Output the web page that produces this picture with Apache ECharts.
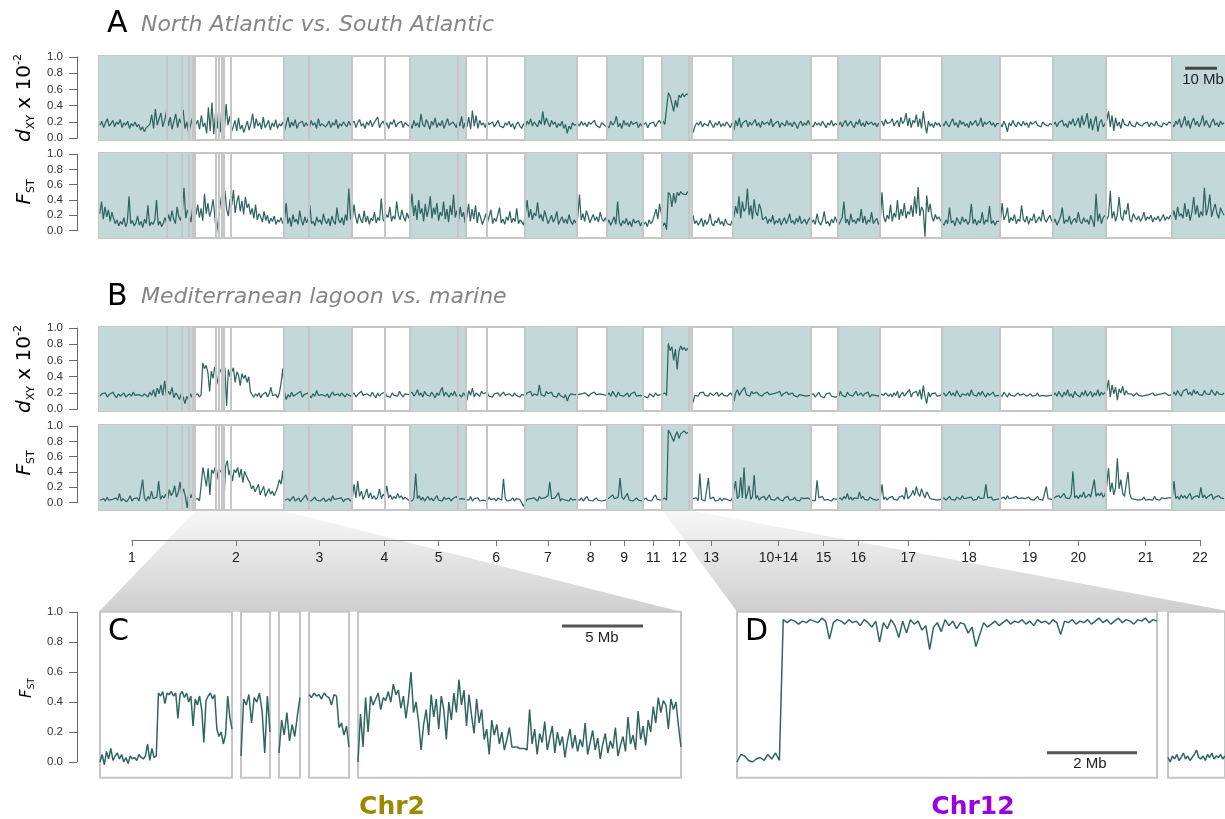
<!DOCTYPE html>
<html>
<head>
<meta charset="utf-8">
<script src="https://cdn.jsdelivr.net/npm/echarts@6/dist/echarts.min.js"></script>
<style>
html,body{margin:0;padding:0;background:#fff;}
#main{width:1225px;height:819px;}
</style>
</head>
<body>
<div id="main"></div>
<script>
// chromosomes along the genome (Mb from start of the concatenated assembly)
var chromNames = ['1','2','3','4','5','6','7','8','9','11','12','13','10+14','15','16','17','18','19','20','21','22'];
var chromEdges = [0, 30.1, 57.8, 79.0, 97.2, 114.9, 133.2, 149.6, 158.8, 170.3, 176.3, 185.7, 198.5, 222.8, 231.3, 244.3, 263.7, 281.9, 298.5, 315.2, 335.7, 352.5];
var chromTicks = [10.25, 42.75, 68.9, 89.2, 106.1, 124.1, 140.25, 153.6, 164.1, 173.2, 181.3, 191.3, 212.3, 226.4, 237.3, 252.9, 271.9, 290.8, 306.0, 327.1, 344.1];
// scaffold gaps inside chromosomes
var scaffoldBreaks = [21.3, 26.0, 28.2, 29.3, 36.6, 37.5, 38.5, 39.2, 41.2, 65.6, 89.4, 112.3, 121.3, 184.7];

// A: North Atlantic vs South Atlantic, one list of windows per chromosome
var dxyA = [
  [0.16,0.21,0.13,0.19,0.24,0.15,0.18,0.22,0.14,0.20,0.17,0.23,0.13,0.19,0.16,0.21,0.12,0.18,0.15,0.20,0.14,0.17,0.10,0.14,0.08,0.13,0.11,0.17,0.29,0.12,0.36,0.16,0.24,0.31,0.14,0.22,0.33,0.15,0.26,0.11,0.21,0.30,0.13,0.24,0.18,0.35,0.12,0.20,0.07,0.16,0.25,0.13],
  [0.15,0.22,0.11,0.28,0.14,0.19,0.06,0.38,0.09,0.44,0.05,0.31,0.12,0.40,0.07,0.35,0.10,0.42,0.16,0.27,0.08,0.14,0.22,0.09,0.25,0.11,0.16,0.07,0.14,0.21,0.10,0.18,0.30,0.12,0.24,0.15,0.19,0.11,0.26,0.13,0.17,0.22,0.10,0.19,0.14,0.23,0.12,0.18,0.15,0.20],
  [0.09,0.18,0.26,0.13,0.20,0.15,0.23,0.12,0.18,0.16,0.21,0.14,0.19,0.17,0.13,0.22,0.16,0.19,0.12,0.24,0.15,0.18,0.20,0.14,0.17,0.21,0.13,0.19,0.16,0.23,0.12,0.18,0.15,0.20,0.17,0.14,0.21,0.16],
  [0.16,0.21,0.13,0.19,0.23,0.15,0.18,0.12,0.20,0.16,0.22,0.14,0.19,0.17,0.26,0.13,0.18,0.21,0.15,0.19,0.12,0.20,0.17,0.23,0.14,0.18,0.16,0.21,0.13,0.19,0.17,0.15],
  [0.18,0.12,0.22,0.15,0.19,0.13,0.30,0.17,0.14,0.23,0.18,0.11,0.21,0.16,0.25,0.13,0.19,0.15,0.22,0.12,0.18,0.24,0.16,0.14,0.20,0.17,0.13,0.23,0.15,0.27,0.12,0.19],
  [0.14,0.26,0.11,0.34,0.15,0.28,0.12,0.22,0.16,0.19,0.13,0.21,0.17,0.15,0.20,0.14,0.18,0.22,0.15,0.17,0.13,0.19,0.16,0.21,0.14,0.18,0.11,0.17,0.20,0.15,0.12,0.18],
  [0.13,0.21,0.17,0.24,0.15,0.20,0.18,0.14,0.22,0.17,0.33,0.16,0.25,0.19,0.14,0.22,0.17,0.20,0.13,0.18,0.15,0.21,0.12,0.17,0.06,0.15,0.11,0.19,0.16,0.18],
  [0.18,0.15,0.21,0.16,0.19,0.14,0.20,0.17,0.15,0.22,0.16,0.18,0.13,0.19,0.17,0.15],
  [0.17,0.13,0.21,0.16,0.19,0.27,0.14,0.18,0.12,0.22,0.16,0.19,0.14,0.21,0.17,0.15,0.20,0.13,0.18,0.15],
  [0.15,0.19,0.13,0.18,0.16,0.20,0.14,0.19,0.22,0.18],
  [0.21,0.17,0.19,0.56,0.52,0.54,0.33,0.47,0.38,0.53,0.50,0.55,0.51,0.54,0.52,0.55,null],
  [0.07,0.15,0.19,0.16,0.21,0.14,0.18,0.20,0.15,0.22,0.17,0.13,0.19,0.16,0.21,0.14,0.18,0.15,0.20,0.17,0.13,0.19],
  [0.10,0.22,0.15,0.25,0.13,0.19,0.17,0.22,0.14,0.20,0.16,0.18,0.23,0.15,0.19,0.13,0.21,0.17,0.15,0.20,0.16,0.24,0.14,0.18,0.16,0.21,0.13,0.19,0.17,0.15,0.22,0.16,0.19,0.14,0.20,0.17,0.12,0.18,0.21,0.15,0.19,0.16,0.22,0.17],
  [0.18,0.14,0.20,0.16,0.19,0.15,0.21,0.17,0.13,0.19,0.16,0.22,0.15,0.18,0.16],
  [0.16,0.20,0.14,0.19,0.22,0.15,0.18,0.21,0.16,0.13,0.20,0.17,0.23,0.15,0.19,0.14,0.21,0.17,0.15,0.20,0.16,0.19,0.14,0.18],
  [0.17,0.21,0.15,0.23,0.18,0.16,0.20,0.24,0.15,0.19,0.22,0.14,0.26,0.18,0.21,0.31,0.15,0.25,0.13,0.22,0.19,0.29,0.14,0.24,0.12,0.33,0.17,0.06,0.21,0.15,0.18,0.13,0.20,0.16,0.19,0.14],
  [0.19,0.15,0.21,0.17,0.14,0.20,0.24,0.16,0.19,0.13,0.22,0.17,0.20,0.15,0.18,0.13,0.21,0.16,0.19,0.22,0.15,0.18,0.25,0.14,0.20,0.17,0.15,0.21,0.16,0.19,0.14,0.18,0.16],
  [0.18,0.14,0.21,0.16,0.08,0.19,0.15,0.22,0.17,0.14,0.20,0.18,0.15,0.21,0.16,0.19,0.13,0.20,0.17,0.15,0.21,0.16,0.18,0.14,0.20,0.17,0.19,0.15,0.18,0.16],
  [0.16,0.20,0.14,0.19,0.17,0.22,0.15,0.18,0.13,0.21,0.17,0.24,0.15,0.19,0.25,0.13,0.28,0.16,0.22,0.31,0.12,0.24,0.10,0.20,0.27,0.08,0.19,0.23,0.14,0.18],
  [0.22,0.33,0.14,0.28,0.09,0.25,0.15,0.20,0.12,0.24,0.17,0.19,0.15,0.21,0.16,0.18,0.14,0.20,0.17,0.19,0.15,0.18,0.16,0.20,0.14,0.19,0.17,0.15,0.21,0.16,0.18,0.14,0.19,0.17,0.16,0.20,0.18],
  [0.18,0.14,0.21,0.17,0.24,0.13,0.19,0.27,0.15,0.22,0.12,0.20,0.25,0.16,0.21,0.14,0.19,0.28,0.15,0.22,0.17,0.13,0.20,0.24,0.16,0.19,0.14,0.21,0.17,0.19]
];
var fstA = [
  [0.22,0.38,0.15,0.31,0.18,0.27,0.12,0.24,0.16,0.09,0.14,0.06,0.12,0.08,0.17,0.05,0.11,0.45,0.09,0.13,0.06,0.10,0.19,0.07,0.12,0.04,0.15,0.09,0.33,0.06,0.11,0.08,0.14,0.40,0.07,0.12,0.05,0.10,0.17,0.08,0.21,0.12,0.26,0.15,0.09,0.31,0.18,0.13,0.24,0.56,0.16,0.27,0.20,0.11,0.29,0.18],
  [0.21,0.34,0.17,0.29,0.13,0.48,0.22,0.36,0.18,0.27,0.41,0.20,-0.04,0.12,0.31,0.45,0.24,0.52,0.28,0.19,0.41,0.33,0.53,0.23,0.37,0.46,0.25,0.39,0.21,0.44,0.30,0.35,0.21,0.29,0.16,0.34,0.14,0.22,0.18,0.11,0.25,0.13,0.20,0.09,0.16,0.12,0.19,0.08,0.14,0.11,0.17,0.09],
  [0.14,0.36,0.09,0.17,0.05,0.21,0.11,0.15,0.08,0.26,0.13,0.07,0.18,0.10,0.15,0.33,0.09,0.12,0.06,0.18,0.11,0.14,0.08,0.22,0.13,0.09,0.16,0.06,0.19,0.12,0.08,0.30,0.14,0.10,0.17,0.07,0.21,0.13,0.55,0.16],
  [0.12,0.34,0.18,0.09,0.22,0.14,0.10,0.26,0.11,0.19,0.08,0.16,0.13,0.24,0.10,0.17,0.13,0.42,0.15,0.11,0.21,0.17,0.31,0.12,0.19,0.15,0.38,0.20,0.14,0.27,0.18,0.12,0.23,0.16],
  [0.26,0.48,0.19,0.33,0.14,0.40,0.22,0.29,0.12,0.35,0.18,0.27,0.45,0.16,0.30,0.21,0.36,0.13,0.24,0.19,0.38,0.15,0.28,0.11,0.33,0.20,0.47,0.17,0.26,0.13,0.31,0.18,0.24,0.10],
  [0.18,0.35,0.12,0.28,0.15,0.33,0.10,0.24,0.17,0.08,0.14,0.22,0.11,0.19,0.27,0.09,0.16,0.12,0.21,0.30,0.10,0.15,0.08,0.18,0.13,0.25,0.10,0.16,0.12,0.29,0.09,0.14,0.11,0.07],
  [0.22,0.40,0.17,0.28,0.14,0.23,0.19,0.37,0.16,0.21,0.12,0.26,0.18,0.09,0.14,0.20,0.11,0.16,0.25,0.08,0.13,0.18,0.10,0.15,0.09,0.21,0.12,0.08,0.14,0.10],
  [0.17,0.47,0.14,0.22,0.12,0.26,0.19,0.10,0.16,0.21,0.13,0.18,0.11,0.24,0.15,0.12,0.17],
  [0.09,0.14,0.07,0.12,0.18,0.08,0.38,0.11,0.06,0.13,0.09,0.16,0.07,0.12,0.05,0.15,0.10,0.08,0.13,0.06,0.11],
  [0.08,0.11,0.05,0.14,0.09,0.12,0.20,0.28,0.15,0.35,0.22],
  [0.06,0.10,0.01,0.50,0.47,0.31,0.49,0.36,0.50,0.46,0.51,0.48,0.50,0.47,0.51,0.49,null],
  [0.20,0.09,0.13,0.07,0.11,0.16,0.05,0.14,0.08,0.12,0.22,0.09,0.06,0.13,0.10,0.17,0.08,0.12,0.06,0.15,0.09,0.11,0.07,0.13],
  [0.18,0.32,0.22,0.45,0.16,0.38,0.25,0.29,0.55,0.20,0.33,0.15,0.41,0.24,0.19,0.35,0.28,0.14,0.12,0.18,0.09,0.15,0.11,0.20,0.08,0.13,0.10,0.16,0.07,0.12,0.17,0.09,0.14,0.22,0.10,0.13,0.08,0.16,0.11,0.19,0.09,0.12,0.15,0.08,0.13,0.17],
  [0.10,0.14,0.08,0.22,0.11,0.07,0.13,0.25,0.09,0.12,0.06,0.15,0.10,0.18,0.11],
  [0.08,0.12,0.17,0.38,0.10,0.15,0.07,0.22,0.11,0.14,0.09,0.16,0.12,0.28,0.10,0.19,0.08,0.14,0.11,0.24,0.09,0.13,0.16,0.08],
  [0.13,0.50,0.18,0.11,0.20,0.15,0.34,0.12,0.23,0.17,0.40,0.14,0.28,0.19,0.36,0.16,0.25,0.21,0.33,0.18,0.45,0.22,0.57,0.19,0.31,0.26,-0.08,0.46,0.24,0.35,0.18,0.12,0.21,0.15,0.18,0.13],
  [0.11,0.07,0.14,0.09,0.30,0.10,0.13,0.06,0.17,0.12,0.08,0.18,0.11,0.15,0.08,0.12,0.35,0.09,0.15,0.07,0.13,0.10,0.24,0.08,0.14,0.11,0.32,0.09,0.13,0.07,0.12,0.10],
  [0.12,0.36,0.14,0.19,0.30,0.10,0.17,0.13,0.21,0.09,0.15,0.12,0.33,0.15,0.11,0.19,0.08,0.16,0.13,0.22,0.10,0.14,0.18,0.12,0.27,0.15,0.11,0.16,0.20,0.13],
  [0.10,0.15,0.07,0.12,0.18,0.30,0.09,0.14,0.11,0.19,0.08,0.13,0.16,0.10,0.24,0.12,0.09,0.17,0.11,0.14,0.08,0.20,0.13,0.05,0.48,0.12,0.22,0.09,0.17,0.20],
  [0.14,0.19,0.52,0.16,0.25,0.12,0.21,0.44,0.18,0.13,0.27,0.21,0.36,0.15,0.11,0.22,0.17,0.14,0.19,0.12,0.16,0.24,0.13,0.18,0.15,0.20,0.11,0.17,0.14,0.19,0.12,0.16,0.21,0.13,0.18,0.15,0.20],
  [0.17,0.26,0.14,0.31,0.19,0.22,0.16,0.36,0.18,0.28,0.13,0.24,0.44,0.21,0.33,0.17,0.25,0.19,0.56,0.20,0.29,0.47,0.18,0.27,0.35,0.22,0.16,0.30,0.24,0.20]
];

// B: Mediterranean lagoon vs marine
var dxyB = [
  [0.16,0.19,0.17,0.20,0.15,0.18,0.16,0.21,0.17,0.14,0.19,0.16,0.18,0.20,0.15,0.17,0.19,0.16,0.21,0.17,0.15,0.18,0.20,0.16,0.19,0.17,0.15,0.21,0.17,0.24,0.15,0.26,0.19,0.30,0.17,0.35,0.16,0.22,0.18,0.27,0.14,0.20,0.17,0.12,0.19,0.15,0.07,0.16,0.11,0.19,0.14,0.17],
  [0.17,0.19,0.15,0.18,0.57,0.50,0.54,0.45,0.22,0.47,0.38,0.52,0.43,0.31,0.49,0.45,0.36,0.51,0.04,0.49,0.40,0.46,0.51,0.33,0.46,0.42,0.29,0.44,0.38,0.42,0.33,0.40,0.21,0.18,0.15,0.19,0.16,0.20,0.14,0.18,0.17,0.21,0.15,0.19,0.27,0.17,0.15,0.18,0.14,0.20,0.32,0.50],
  [0.20,0.12,0.18,0.15,0.21,0.16,0.14,0.19,0.17,0.22,0.15,0.18,0.16,0.20,0.17,0.14,0.19,0.16,0.23,0.17,0.15,0.18,0.20,0.16,0.19,0.14,0.18,0.21,0.17,0.15,0.19,0.16,0.20,0.18,0.15,0.19,0.17,0.16],
  [0.17,0.20,0.15,0.18,0.16,0.22,0.17,0.15,0.19,0.18,0.16,0.21,0.17,0.14,0.20,0.16,0.19,0.17,0.21,0.16,0.18,0.15,0.20,0.17,0.19,0.16,0.22,0.18,0.15,0.19,0.17,0.18],
  [0.18,0.21,0.16,0.19,0.24,0.17,0.20,0.15,0.22,0.18,0.19,0.16,0.21,0.18,0.14,0.20,0.17,0.19,0.27,0.16,0.21,0.18,0.15,0.20,0.17,0.22,0.16,0.19,0.18,0.15,0.20,0.17],
  [0.11,0.23,0.17,0.26,0.15,0.20,0.18,0.16,0.22,0.19,0.17,0.21,0.16,0.18,0.15,0.19,0.17,0.20,0.16,0.18,0.21,0.17,0.15,0.19,0.18,0.16,0.20,0.17,0.19,0.15,0.18,0.16],
  [0.17,0.20,0.18,0.22,0.16,0.19,0.21,0.17,0.30,0.18,0.20,0.16,0.22,0.19,0.17,0.21,0.16,0.18,0.15,0.20,0.17,0.19,0.14,0.18,0.10,0.16,0.19,0.17,0.18,0.16],
  [0.18,0.16,0.19,0.17,0.20,0.18,0.16,0.19,0.17,0.21,0.18,0.16,0.19,0.17,0.18,0.16],
  [0.17,0.20,0.16,0.22,0.18,0.15,0.21,0.17,0.19,0.16,0.18,0.20,0.15,0.19,0.17,0.21,0.16,0.18,0.17,0.15],
  [0.16,0.18,0.14,0.19,0.17,0.15,0.20,0.17,0.19,0.18],
  [0.18,0.20,0.17,0.81,0.72,0.77,0.60,0.74,0.49,0.71,0.78,0.73,0.76,0.72,0.75,0.74,null],
  [0.08,0.17,0.19,0.16,0.20,0.18,0.21,0.17,0.19,0.16,0.20,0.18,0.17,0.19,0.21,0.16,0.18,0.20,0.17,0.19,0.16,0.18,0.20,0.17],
  [0.10,0.20,0.24,0.17,0.21,0.19,0.27,0.18,0.20,0.16,0.22,0.19,0.17,0.21,0.18,0.20,0.16,0.19,0.17,0.21,0.18,0.16,0.19,0.17,0.20,0.18,0.22,0.16,0.19,0.17,0.21,0.18,0.16,0.20,0.17,0.19,0.15,0.18,0.20,0.17,0.19,0.16,0.18,0.17],
  [0.17,0.19,0.15,0.18,0.21,0.16,0.18,0.14,0.19,0.17,0.20,0.16,0.18,0.15,0.17],
  [0.16,0.22,0.17,0.19,0.15,0.21,0.18,0.20,0.16,0.19,0.22,0.17,0.18,0.20,0.16,0.19,0.17,0.21,0.15,0.18,0.20,0.17,0.19,0.16],
  [0.19,0.21,0.17,0.20,0.18,0.16,0.19,0.15,0.20,0.17,0.22,0.14,0.18,0.21,0.16,0.19,0.17,0.24,0.15,0.20,0.18,0.22,0.16,0.24,0.12,0.29,0.16,0.07,0.21,0.15,0.19,0.17,0.20,0.16,0.18,0.17],
  [0.18,0.20,0.16,0.19,0.22,0.17,0.20,0.16,0.23,0.18,0.15,0.19,0.21,0.17,0.20,0.16,0.24,0.18,0.19,0.16,0.21,0.17,0.22,0.18,0.15,0.20,0.17,0.19,0.21,0.16,0.18,0.17],
  [0.19,0.16,0.21,0.18,0.15,0.20,0.17,0.19,0.16,0.18,0.20,0.17,0.15,0.19,0.18,0.16,0.17,0.19,0.16,0.18,0.17,0.20,0.16,0.18,0.17,0.19,0.16,0.18,0.17,0.16],
  [0.17,0.20,0.16,0.22,0.18,0.15,0.21,0.17,0.24,0.16,0.19,0.14,0.22,0.18,0.20,0.15,0.21,0.17,0.23,0.16,0.19,0.22,0.15,0.20,0.17,0.24,0.16,0.21,0.18,0.20],
  [0.23,0.36,0.15,0.30,0.19,0.27,0.11,0.25,0.20,0.28,0.17,0.23,0.19,0.17,0.19,0.16,0.18,0.20,0.17,0.19,0.16,0.18,0.17,0.19,0.18,0.16,0.20,0.17,0.19,0.18,0.16,0.19,0.17,0.20,0.18,0.17,0.19],
  [0.18,0.21,0.17,0.23,0.19,0.16,0.22,0.20,0.25,0.18,0.21,0.17,0.24,0.19,0.22,0.18,0.20,0.17,0.23,0.19,0.21,0.18,0.24,0.20,0.17,0.22,0.19,0.21,0.18,0.20]
];
var fstB = [
  [0.03,0.01,0.05,0.02,0.07,0.03,0.01,0.04,0.02,0.06,0.03,0.12,0.02,0.05,0.03,0.01,0.04,0.09,0.02,0.05,0.03,0.06,0.02,0.04,0.30,0.06,0.02,0.08,0.04,0.15,0.05,0.03,0.07,0.28,0.04,0.09,0.06,0.11,0.04,0.17,0.09,0.13,0.22,0.07,0.13,0.27,0.10,0.18,0.08,-0.07,0.14,0.06,0.12,0.04],
  [0.03,0.05,0.02,0.04,0.46,0.44,0.21,0.45,0.10,0.43,0.38,0.46,0.30,0.44,0.40,0.45,-0.05,0.47,0.55,0.36,0.45,0.28,0.43,0.39,0.46,0.33,0.44,0.26,0.41,0.35,0.30,0.26,0.18,0.22,0.14,0.19,0.24,0.10,0.16,0.21,0.08,0.13,0.18,0.11,0.15,0.09,0.14,0.20,0.30,0.24,0.42],
  [0.03,0.01,0.05,0.02,0.04,0.08,0.02,0.03,0.06,0.01,0.04,0.02,0.10,0.03,0.05,0.02,0.04,0.07,0.03,0.05,0.02,0.04,0.06,0.01,0.03,0.05,0.02,0.09,0.04,0.02,0.05,0.03,0.06,0.01,0.04,0.03,0.05,0.02],
  [0.05,0.24,0.06,0.28,0.08,0.15,0.04,0.10,0.18,0.06,0.13,0.05,0.09,0.04,0.07,0.18,0.05,0.11,0.07,0.22,0.06,0.10,0.04,0.08,0.05,0.12,0.06,0.09,0.04,0.07,0.05,0.03],
  [0.04,0.02,0.06,0.38,0.05,0.09,0.03,0.07,0.02,0.05,0.08,0.03,0.06,0.02,0.04,0.09,0.03,0.05,0.02,0.07,0.04,0.03,0.06,0.02,0.05,0.03,0.08,0.04,0.02,0.05,0.03,0.04],
  [0.06,0.03,0.08,0.02,0.05,0.03,0.06,0.02,0.04,0.03,0.05,0.02,0.07,0.04,0.03,0.05,0.02,0.06,0.04,0.03,0.31,0.05,0.02,0.04,0.03,0.06,0.02,0.05,0.03,0.04,0.02,-0.05],
  [0.01,0.04,0.02,0.05,0.03,0.06,0.04,0.02,0.08,0.05,0.03,0.06,0.04,0.09,0.27,0.05,0.03,0.06,0.04,0.13,0.02,0.05,0.07,0.03,0.04,0.02,0.06,0.03,0.05,0.04],
  [0.05,0.03,0.06,0.02,0.04,0.08,0.03,0.05,0.02,0.04,0.06,0.03,0.05,0.02,0.04,0.03],
  [0.03,0.06,0.04,0.10,0.05,0.03,0.07,0.32,0.07,0.04,0.06,0.12,0.03,0.05,0.02,0.04,0.06,0.03,0.05,0.02],
  [0.04,0.06,0.03,0.05,0.02,0.07,0.10,0.04,0.06,0.03],
  [0.04,0.06,0.03,0.95,0.91,0.93,0.80,0.88,0.93,0.84,0.90,0.92,0.94,0.91,0.93,0.92,null],
  [0.05,0.03,0.06,0.02,0.38,0.04,0.06,0.02,0.04,0.32,0.05,0.03,0.07,0.02,0.04,0.03,0.06,0.02,0.05,0.03,0.04,0.06,0.02,0.05],
  [0.04,0.28,0.05,0.08,0.33,0.06,0.46,0.05,0.12,0.22,0.04,0.08,0.36,0.05,0.09,0.03,0.06,0.04,0.08,0.03,0.05,0.10,0.04,0.06,0.03,0.05,0.07,0.04,0.05,0.02,0.06,0.04,0.08,0.03,0.05,0.04,0.07,0.03,0.05,0.02,0.06,0.04,0.05,0.03,0.06,0.04],
  [0.03,0.05,0.02,0.29,0.06,0.04,0.08,0.03,0.05,0.04,0.06,0.02,0.05,0.03,0.04],
  [0.04,0.06,0.03,0.08,0.05,0.12,0.04,0.07,0.03,0.06,0.04,0.05,0.14,0.05,0.08,0.04,0.06,0.03,0.07,0.05,0.04,0.06,0.03,0.05],
  [0.05,0.24,0.04,0.07,0.03,0.06,0.05,0.08,0.04,0.06,0.03,0.07,0.05,0.09,0.04,0.20,0.05,0.07,0.10,0.16,0.09,0.21,0.12,0.08,0.18,0.11,0.06,0.14,0.10,0.05,0.07,0.04,0.06,0.03,0.05,0.04],
  [0.04,0.06,0.03,0.05,0.08,0.04,0.06,0.03,0.07,0.05,0.04,0.09,0.05,0.03,0.06,0.04,0.07,0.03,0.05,0.04,0.08,0.05,0.03,0.06,0.24,0.06,0.04,0.07,0.03,0.05,0.04,0.06],
  [0.05,0.03,0.07,0.04,0.09,0.05,0.03,0.06,0.04,0.08,0.05,0.03,0.06,0.04,0.05,0.03,0.07,0.04,0.06,0.03,0.05,0.08,0.04,0.06,0.03,0.05,0.21,0.05,0.06,0.04],
  [0.04,0.07,0.05,0.09,0.06,0.04,0.12,0.06,0.08,0.05,0.10,0.41,0.06,0.09,0.05,0.10,0.07,0.14,0.06,0.08,0.11,0.07,0.09,0.30,0.08,0.12,0.09,0.13,0.07,0.10],
  [0.22,0.45,0.14,0.26,0.10,0.20,0.58,0.18,0.30,0.12,0.08,0.24,0.40,0.12,0.05,0.07,0.04,0.06,0.03,0.05,0.04,0.07,0.03,0.05,0.04,0.06,0.03,0.08,0.04,0.05,0.03,0.06,0.04,0.05,0.03,0.06,0.04],
  [0.06,0.28,0.05,0.08,0.04,0.10,0.06,0.09,0.05,0.07,0.12,0.04,0.07,0.05,0.09,0.06,0.20,0.06,0.10,0.05,0.08,0.06,0.11,0.04,0.07,0.05,0.09,0.06,0.08,0.05]
];

// C: Chr2 FST (lagoon vs marine), one list per scaffold box
var chr2Fst = [
  [0.00,0.05,-0.02,0.07,0.02,0.09,0.01,0.04,0.06,0.02,0.05,0.00,0.03,-0.01,0.04,0.02,0.03,0.01,0.05,0.03,0.02,0.04,0.12,0.01,0.09,0.03,0.04,
   0.46,0.44,0.47,0.39,0.46,0.45,0.47,0.44,0.46,
   0.29,0.45,0.47,0.43,0.46,0.40,0.44,0.24,0.42,0.38,0.44,0.35,0.13,0.41,0.44,0.46,0.42,0.45,0.22,0.17,0.20,0.12,0.18,0.44,0.30,0.22],
  [0.04,0.42,0.38,0.45,0.26,0.43,0.40,0.46,0.34,0.06,0.44,0.20],
  [0.06,0.28,0.18,0.33,0.14,0.25,0.17,0.31,0.43],
  [0.45,0.43,0.46,0.44,0.45,0.42,0.46,0.44,0.43,0.38,0.45,0.44,0.23,0.26,0.18,0.24,0.10],
  [0.00,0.32,0.10,0.43,0.20,
   0.44,0.38,0.42,0.46,0.35,0.43,0.41,0.47,0.40,
   0.52,0.45,0.48,0.36,0.44,0.29,0.42,0.60,0.33,0.40,0.27,
   0.08,0.25,0.35,0.18,
   0.45,0.30,0.42,0.22,0.44,0.35,0.15,0.40,0.28,0.46,0.33,0.55,
   0.38,0.48,0.24,0.45,0.31,0.19,0.42,0.26,0.35,0.15,0.22,
   0.05,0.28,0.18,0.25,0.12,0.20,0.08,0.15,0.23,0.10,
   0.10,0.10,0.09,0.09,0.09,0.08,
   0.35,0.12,0.22,0.05,0.19,0.13,0.27,0.08,0.16,0.24,0.06,0.20,0.11,0.17,0.03,0.14,0.22,0.09,0.18,0.07,0.15,
   0.10,0.26,0.05,0.13,0.21,0.08,0.16,0.02,0.12,0.19,0.06,0.14,0.09,0.23,0.04,0.11,0.17,0.07,0.30,0.12,0.18,
   0.08,0.34,0.15,0.24,0.11,0.28,0.20,0.37,0.26,0.43,0.33,0.41,0.38,0.22,0.42,0.35,0.40,0.24,0.10]
];
// D: Chr12 FST (lagoon vs marine)
var chr12Fst = [
  [0.00,0.05,0.04,0.01,0.00,0.02,0.03,0.01,0.05,0.02,0.06,0.01,
   0.95,0.93,0.95,0.94,0.92,0.94,0.93,0.95,0.94,0.93,0.96,0.94,0.82,
   0.93,0.95,0.94,0.92,0.95,0.93,0.94,0.91,0.95,0.93,0.90,0.94,
   0.80,0.93,0.89,0.95,0.91,0.83,0.94,0.86,0.95,0.92,0.94,0.88,0.91,0.75,0.90,
   0.93,0.87,0.95,0.91,0.94,0.89,0.93,0.92,0.86,0.90,0.77,0.85,0.93,0.90,
   0.92,0.94,0.91,0.93,0.95,0.92,0.94,0.93,0.95,0.92,0.94,0.91,0.95,0.93,0.94,0.92,0.95,0.93,0.85,0.94,
   0.93,0.95,0.92,0.94,0.93,0.95,0.92,0.94,0.96,0.93,0.95,0.92,0.94,0.96,0.93,0.95,0.94,0.92,0.95,0.94,0.96,0.93,0.95,0.94],
  [0.03,0.00,0.04,0.02,0.05,0.01,0.03,0.06,0.02,0.04,0.01,0.03,0.05,0.08,0.03,0.02,0.04,0.01,0.05,0.03,0.06,0.02,0.04,0.03,0.05,0.02,0.04]
];

var LINE = '#2e6563', SHADE = '#c3d8d9', BORDER = '#c6c6c6';
var GX = 99, GENOME = 352.5, PX = 3.2;   // 3.2 px per Mb
var dxyRange = [-0.022, 1.012], fstRange = [-0.098, 1.016], zoomRange = [-0.105, 1.003];

var myChart = echarts.init(document.getElementById('main'));
var grids = [], xAxes = [], yAxes = [], series = [];

function addGrid(g, xa, ya) {
  var i = grids.length;
  grids.push(g);
  xa.gridIndex = i; ya.gridIndex = i;
  xAxes.push(xa); yAxes.push(ya);
  return i;
}
function hidden(min, max) { return {type: 'value', show: false, min: min, max: max}; }
function tickAxis() {
  return {
    type: 'value', min: 0, max: 1, interval: 0.2, position: 'left',
    axisLine: {show: true, lineStyle: {color: '#666', width: 1}},
    axisTick: {show: true, length: 8, lineStyle: {color: '#666'}},
    axisLabel: {show: true, color: '#333', fontSize: 11.5, fontFamily: 'Liberation Sans', margin: 14,
      formatter: function (v) { return v.toFixed(1); }},
    splitLine: {show: false}
  };
}
// spread each chromosome's windows evenly over its extent
function toXY(track) {
  var out = [];
  for (var c = 0; c < track.length; c++) {
    var a = chromEdges[c], b = chromEdges[c + 1], v = track[c];
    for (var j = 0; j < v.length; j++) out.push([a + (b - a) * (j + 0.5) / v.length, v[j]]);
  }
  return out;
}
function toIdx(v) { return v.map(function (y, j) { return [j, y]; }); }

var shaded = [];
for (var c = 0; c < chromNames.length; c += 2) shaded.push([{xAxis: chromEdges[c]}, {xAxis: chromEdges[c + 1]}]);
var breaks = chromEdges.slice(1, chromEdges.length - 1).concat(scaffoldBreaks).map(function (v) { return {xAxis: v}; });

var tracks = [
  {top: 56, h: 84, data: dxyA, range: dxyRange},
  {top: 153, h: 85, data: fstA, range: fstRange},
  {top: 327, h: 84, data: dxyB, range: dxyRange},
  {top: 425, h: 85, data: fstB, range: fstRange}
];
tracks.forEach(function (t, k) {
  var gi = addGrid({left: GX, top: t.top, width: GENOME * PX, height: t.h, show: true, borderColor: BORDER, borderWidth: 2, backgroundColor: 'transparent'},
    hidden(0, GENOME), hidden(t.range[0], t.range[1]));
  series.push({type: 'line', xAxisIndex: gi, yAxisIndex: gi, data: [], z: 1, silent: true,
    markArea: {silent: true, itemStyle: {color: SHADE}, data: shaded},
    markLine: {silent: true, symbol: ['none', 'none'], label: {show: false},
      lineStyle: {color: BORDER, width: 2, type: 'solid'}, data: breaks}});
  series.push({type: 'line', xAxisIndex: gi, yAxisIndex: gi, data: toXY(t.data), symbol: 'none',
    lineStyle: {color: LINE, width: 1.25}, z: 3, silent: true});
  if (k === 0) {
    // 10 Mb scale bar
    series.push({type: 'line', xAxisIndex: gi, yAxisIndex: gi, data: [[340, 0.86], [350, 0.86]], symbol: 'none',
      lineStyle: {color: '#444', width: 3}, z: 4, silent: true});
  }
  var span = t.range[1] - t.range[0];
  addGrid({left: 77, width: 1, top: t.top + (t.range[1] - 1) / span * t.h, height: t.h / span},
    hidden(0, 1), tickAxis());
});

// chromosome axis
addGrid({left: GX + chromTicks[0] * PX, width: (chromTicks[chromTicks.length - 1] - chromTicks[0]) * PX, top: 539, height: 1},
  {type: 'value', min: chromTicks[0], max: chromTicks[chromTicks.length - 1], position: 'bottom', z: 5,
    axisLine: {show: true, lineStyle: {color: '#777', width: 1}},
    axisTick: {show: true, customValues: chromTicks, length: 6, lineStyle: {color: '#777'}},
    axisLabel: {show: true, customValues: chromTicks, fontSize: 14, color: '#222', fontFamily: 'Liberation Sans', margin: 11,
      formatter: function (v) {
        var best = 0;
        for (var i = 1; i < chromTicks.length; i++) if (Math.abs(chromTicks[i] - v) < Math.abs(chromTicks[best] - v)) best = i;
        return chromNames[best];
      }},
    splitLine: {show: false}},
  hidden(0, 1));

// zoom panels
var cBoxes = [[100, 132], [241, 29], [279, 21], [309, 40], [358, 323]];
var dBoxes = [[737, 420], [1168, 80]];
function zoomPanel(boxes, lists) {
  boxes.forEach(function (b, i) {
    var gi = addGrid({left: b[0], top: 611.7, width: b[1], height: 166, show: true, borderColor: BORDER, borderWidth: 2, backgroundColor: 'transparent'},
      hidden(0, lists[i].length - 1), hidden(zoomRange[0], zoomRange[1]));
    series.push({type: 'line', xAxisIndex: gi, yAxisIndex: gi, data: toIdx(lists[i]), symbol: 'none',
      lineStyle: {color: LINE, width: 1.5}, z: 3, silent: true});
  });
}
zoomPanel(cBoxes, chr2Fst);
zoomPanel(dBoxes, chr12Fst);
var zs = zoomRange[1] - zoomRange[0];
addGrid({left: 77, width: 1, top: 611.7 + (zoomRange[1] - 1) / zs * 166, height: 166 / zs}, hidden(0, 1), tickAxis());

function wedge(x0, x1, x2, x3) {
  return {type: 'polygon', z: -1, silent: true,
    shape: {points: [[x0, 511], [x1, 511], [x3, 611.7], [x2, 611.7]]},
    style: {fill: new echarts.graphic.LinearGradient(0, 0, 0, 1, [
      {offset: 0, color: '#f7f7f7'}, {offset: 1, color: '#cfcfcf'}])}};
}
function txt(x, y, text, font, fill, align) {
  return {type: 'text', x: x, y: y, z: 10, silent: true,
    style: {text: text, font: font, fill: fill || '#000', align: align || 'left', verticalAlign: 'middle'}};
}
function yLabel(x, y, big, small, dxy) {
  var rich = {
    i: {fontStyle: 'italic', fontSize: big, fontFamily: 'DejaVu Sans', fill: '#000', lineHeight: big + 4},
    s: {fontSize: small, fontFamily: 'DejaVu Sans', fill: '#000', verticalAlign: 'bottom', lineHeight: small},
    n: {fontSize: big, fontFamily: 'DejaVu Sans', fill: '#000', lineHeight: big + 4},
    p: {fontSize: small, fontFamily: 'DejaVu Sans', fill: '#000', verticalAlign: 'top', lineHeight: small}
  };
  return {type: 'text', x: x, y: y, rotation: Math.PI / 2, z: 10, silent: true,
    style: {text: dxy ? '{i|d}{s|XY}{n| x 10}{p|-2}' : '{i|F}{s|ST}', rich: rich, align: 'center', verticalAlign: 'middle'}};
}

var graphics = [
  wedge(GX + chromEdges[1] * PX, GX + chromEdges[2] * PX, 99, 681),
  wedge(GX + chromEdges[10] * PX, GX + chromEdges[11] * PX, 737, 1232),
  txt(107, 24, 'A', '30px "DejaVu Sans"'),
  txt(141, 25, 'North Atlantic vs. South Atlantic', 'italic 22px "DejaVu Sans"', '#858585'),
  txt(107, 297, 'B', '30px "DejaVu Sans"'),
  txt(141, 297, 'Mediterranean lagoon vs. marine', 'italic 22px "DejaVu Sans"', '#858585'),
  txt(108, 632, 'C', '30px "DejaVu Sans"'),
  txt(745, 632, 'D', '30px "DejaVu Sans"'),
  yLabel(25, 98, 20, 11, true),
  yLabel(25, 192, 20, 11, false),
  yLabel(25, 369, 20, 11, true),
  yLabel(25, 463, 20, 11, false),
  yLabel(27, 688, 15, 9, false),
  txt(1203, 80, '10 Mb', '15px "Liberation Sans"', '#222', 'center'),
  {type: 'line', z: 10, silent: true, shape: {x1: 562, y1: 626, x2: 643, y2: 626}, style: {stroke: '#555', lineWidth: 3}},
  txt(602, 638, '5 Mb', '15px "Liberation Sans"', '#222', 'center'),
  {type: 'line', z: 10, silent: true, shape: {x1: 1047, y1: 752.7, x2: 1137, y2: 752.7}, style: {stroke: '#555', lineWidth: 3}},
  txt(1090, 764, '2 Mb', '15px "Liberation Sans"', '#222', 'center'),
  txt(392, 807, 'Chr2', 'bold 25px "DejaVu Sans"', '#9b8a00', 'center'),
  txt(973, 807, 'Chr12', 'bold 25px "DejaVu Sans"', '#9a00e0', 'center')
];

var option = {
  animation: false,
  backgroundColor: '#fff',
  grid: grids,
  xAxis: xAxes,
  yAxis: yAxes,
  series: series,
  graphic: graphics
};
myChart.setOption(option);
</script>
</body>
</html>
